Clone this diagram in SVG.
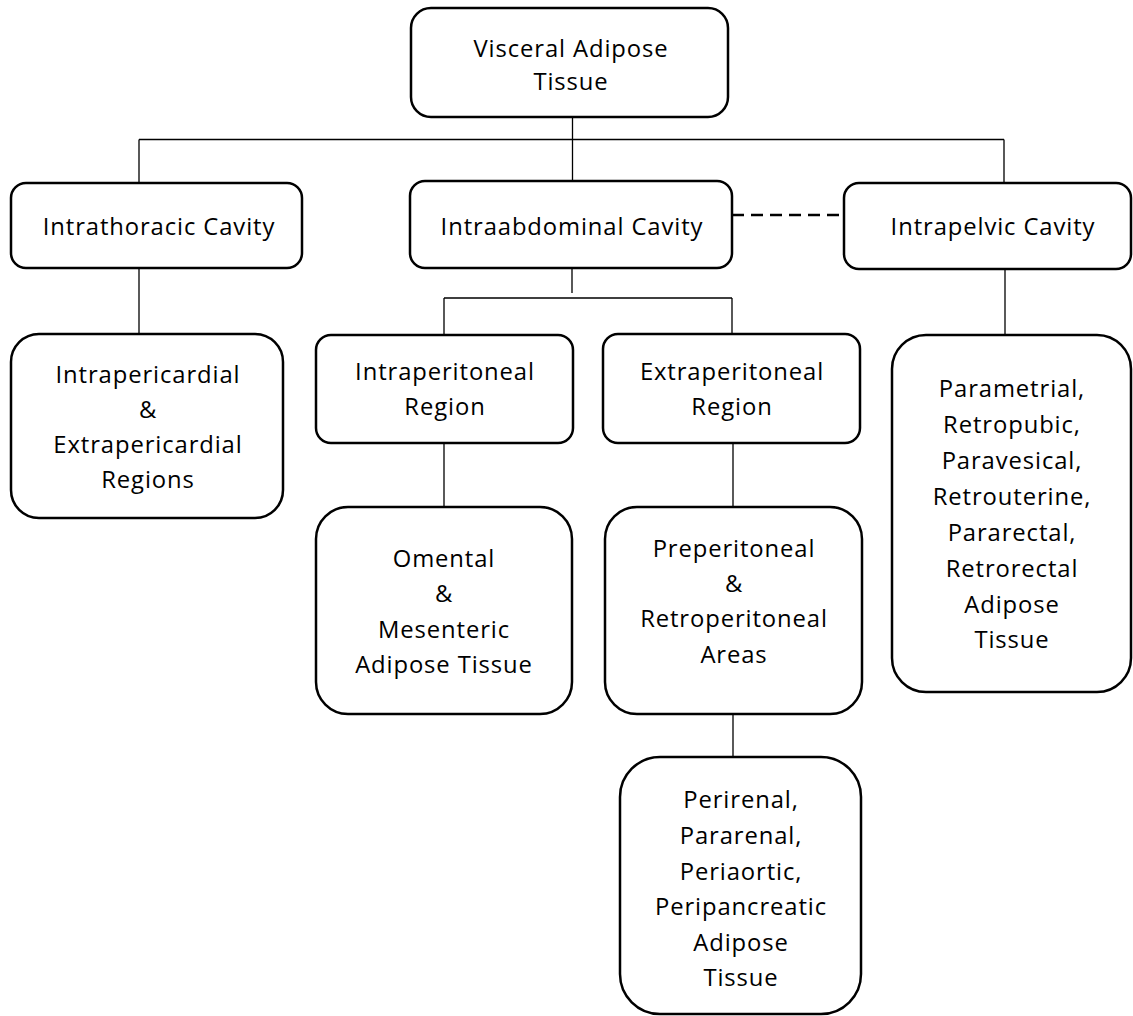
<svg xmlns="http://www.w3.org/2000/svg" width="1133" height="1016" viewBox="0 0 1133 1016">
<style>
.box{fill:#fff;stroke:#000;stroke-width:2.5}
.lbl{font-family:"Open Sans","Liberation Sans",sans-serif;font-size:23.8px;letter-spacing:0.9px;fill:#000;text-anchor:middle}
.con{fill:none;stroke:#000;stroke-width:1.3}
.dash{fill:none;stroke:#000;stroke-width:2.5;stroke-dasharray:12 7}
</style>
<rect width="1133" height="1016" fill="#fff"/>
<g id="connectors">
<path class="con" d="M572.5,117 V182 M139,139.5 H1004 M139,139.5 V183 M1004,139.5 V183"/>
<path class="con" d="M139,268 V334"/>
<path class="con" d="M572,268 V293 M444,298 H732 M444,298 V335 M732,298 V334"/>
<path class="con" d="M444,443 V507"/>
<path class="con" d="M733,443 V507"/>
<path class="con" d="M733,714 V757"/>
<path class="con" d="M1005,269 V335"/>
<path class="dash" d="M732,215 H844"/>
</g>
<g id="visceral">
<rect class="box" x="411" y="8" width="317" height="109" rx="20"/>
<text class="lbl" x="571" y="57">Visceral Adipose</text>
<text class="lbl" x="571" y="90">Tissue</text>
</g>
<g id="intrathoracic">
<rect class="box" x="11" y="183" width="291" height="85" rx="15"/>
<text class="lbl" x="159" y="235">Intrathoracic Cavity</text>
</g>
<g id="intraabdominal">
<rect class="box" x="410" y="181" width="322" height="87" rx="15"/>
<text class="lbl" x="572" y="235">Intraabdominal Cavity</text>
</g>
<g id="intrapelvic">
<rect class="box" x="844" y="183" width="287" height="86" rx="15"/>
<text class="lbl" x="993" y="235">Intrapelvic Cavity</text>
</g>
<g id="pericardial">
<rect class="box" x="11" y="334" width="272" height="184" rx="28"/>
<text class="lbl" x="148" y="383">Intrapericardial</text>
<text class="lbl" x="148" y="418">&amp;</text>
<text class="lbl" x="148" y="453">Extrapericardial</text>
<text class="lbl" x="148" y="488">Regions</text>
</g>
<g id="intraperitoneal">
<rect class="box" x="316" y="335" width="257" height="108" rx="15"/>
<text class="lbl" x="445" y="380">Intraperitoneal</text>
<text class="lbl" x="445" y="415">Region</text>
</g>
<g id="extraperitoneal">
<rect class="box" x="603" y="334" width="257" height="109" rx="15"/>
<text class="lbl" x="732" y="380">Extraperitoneal</text>
<text class="lbl" x="732" y="415">Region</text>
</g>
<g id="omental">
<rect class="box" x="316" y="507" width="256" height="207" rx="32"/>
<text class="lbl" x="444" y="567">Omental</text>
<text class="lbl" x="444" y="602">&amp;</text>
<text class="lbl" x="444" y="638">Mesenteric</text>
<text class="lbl" x="444" y="673">Adipose Tissue</text>
</g>
<g id="preperitoneal">
<rect class="box" x="605" y="507" width="257" height="207" rx="32"/>
<text class="lbl" x="734" y="557">Preperitoneal</text>
<text class="lbl" x="734" y="592">&amp;</text>
<text class="lbl" x="734" y="627">Retroperitoneal</text>
<text class="lbl" x="734" y="663">Areas</text>
</g>
<g id="perirenal">
<rect class="box" x="620" y="757" width="241" height="257" rx="40"/>
<text class="lbl" x="741" y="808">Perirenal,</text>
<text class="lbl" x="741" y="844">Pararenal,</text>
<text class="lbl" x="741" y="880">Periaortic,</text>
<text class="lbl" x="741" y="915">Peripancreatic</text>
<text class="lbl" x="741" y="951">Adipose</text>
<text class="lbl" x="741" y="986">Tissue</text>
</g>
<g id="pelvic">
<rect class="box" x="892" y="335" width="239" height="357" rx="34"/>
<text class="lbl" x="1012" y="397">Parametrial,</text>
<text class="lbl" x="1012" y="433">Retropubic,</text>
<text class="lbl" x="1012" y="469">Paravesical,</text>
<text class="lbl" x="1012" y="505">Retrouterine,</text>
<text class="lbl" x="1012" y="541">Pararectal,</text>
<text class="lbl" x="1012" y="577">Retrorectal</text>
<text class="lbl" x="1012" y="613">Adipose</text>
<text class="lbl" x="1012" y="648">Tissue</text>
</g>
</svg>
